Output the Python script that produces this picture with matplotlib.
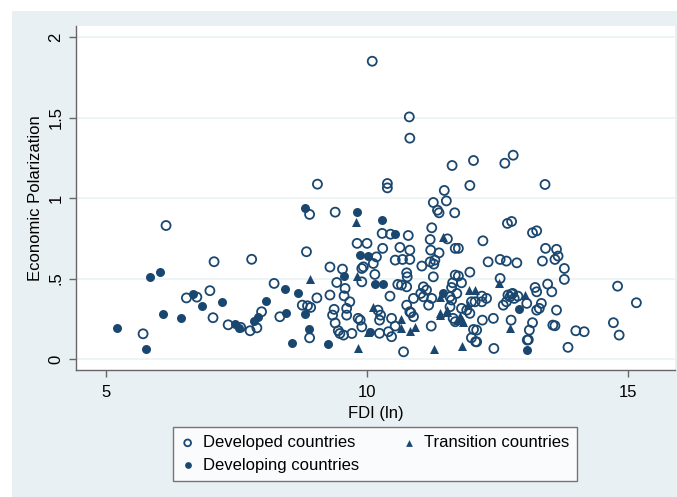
import matplotlib
matplotlib.use("Agg")
import matplotlib.pyplot as plt
from matplotlib.patches import Rectangle

plt.rcParams['font.family'] = ['Liberation Sans', 'DejaVu Sans']

# ---- data ----
developed_x = [5.71, 6.15, 6.54, 6.74, 6.99, 7.07, 7.05, 7.34, 7.58, 7.76, 7.79, 7.89, 7.98,
               8.22, 8.33, 8.76, 8.86, 8.92, 8.84, 8.90, 8.90, 9.04, 9.05, 9.29, 9.37, 9.34,
               9.39, 9.39, 9.42, 9.45, 9.53, 9.48, 9.55, 9.71, 9.58, 9.56, 9.67, 9.61, 9.61,
               9.83, 9.81, 9.90, 9.90, 10.00, 9.93, 10.12, 10.10, 10.15, 10.18, 10.21, 10.26,
               10.24, 10.29, 10.30, 10.39, 10.39, 10.45, 10.44, 10.47, 10.54, 10.54, 10.59,
               10.63, 10.66, 10.68, 10.70, 10.76, 10.77, 10.76, 10.79, 10.81, 10.82, 10.82,
               10.82, 10.84, 10.89, 11.03, 11.05, 11.08, 11.21, 11.21, 11.22, 11.23, 11.24,
               11.27, 11.27, 11.28, 11.30, 11.35, 11.38, 11.38, 11.48, 11.52, 11.54, 11.63,
               11.64, 11.62, 11.68, 11.69, 11.69, 11.75, 11.75, 11.81, 11.97, 11.97, 12.04,
               12.22, 12.20, 12.32, 12.55, 12.55, 12.64, 12.67, 12.69, 12.77, 12.80, 12.87,
               12.70, 12.77, 12.89, 12.76, 13.17, 13.25, 13.22, 13.25, 13.34, 13.36, 13.41,
               13.42, 13.46, 13.54, 13.56, 13.17, 13.07, 12.43, 12.10, 12.00, 12.10, 13.60,
               13.63, 13.66, 13.78, 13.78, 13.63, 13.60, 14.00, 14.16, 14.72, 14.80, 14.83,
               15.16, 13.85, 9.87, 9.90, 10.24, 10.41, 10.47, 10.76, 10.82, 10.89, 11.08,
               11.14, 11.24, 11.18, 11.59, 11.62, 11.72, 11.59, 11.81, 11.91, 11.97, 11.65,
               11.69, 12.00, 12.07, 12.20, 12.29, 12.42, 12.61, 12.67, 12.79, 12.74, 12.82,
               13.06, 13.25, 13.30, 13.09, 13.11, 12.04, 12.08, 12.21, 9.29]
developed_y = [0.157, 0.83, 0.38, 0.385, 0.425, 0.605, 0.257, 0.213, 0.197, 0.176, 0.62, 0.194, 0.294,
               0.47, 0.263, 0.335, 0.331, 0.321, 0.667, 0.899, 0.132, 0.38, 1.087, 0.572, 0.309, 0.273,
               0.224, 0.913, 0.476, 0.176, 0.559, 0.159, 0.149, 0.159, 0.439, 0.393, 0.356, 0.315, 0.273,
               0.253, 0.719, 0.563, 0.48, 0.719, 0.573, 0.594, 1.851, 0.526, 0.635, 0.304, 0.273,
               0.242, 0.781, 0.688, 1.091, 1.064, 0.776, 0.391, 0.253, 0.205, 0.615, 0.464,
               0.694, 0.46, 0.619, 0.045, 0.536, 0.511, 0.449, 0.768, 1.505, 1.373, 0.677,
               0.619, 0.288, 0.263, 0.408, 0.578, 0.387, 0.743, 0.604, 0.677, 0.205, 0.816,
               0.511, 0.973, 0.59, 0.615, 0.925, 0.909, 0.66, 1.048, 0.983, 0.747, 1.203,
               0.474, 0.445, 0.909, 0.688, 0.522, 0.688, 0.516, 0.474, 0.54, 1.079, 1.234,
               0.735, 0.391, 0.604, 0.619, 0.501, 1.217, 0.609, 0.843, 0.855, 1.267, 0.598,
               0.398, 0.404, 0.391, 0.242, 0.785, 0.797, 0.445, 0.418, 0.346, 0.609, 1.085,
               0.688, 0.466, 0.418, 0.211, 0.226, 0.118, 0.066, 0.18, 0.132, 0.107, 0.619,
               0.682, 0.64, 0.563, 0.495, 0.304, 0.207, 0.176, 0.17, 0.226, 0.453, 0.149,
               0.35, 0.073, 0.242, 0.20, 0.16, 0.17, 0.139, 0.335, 0.294, 0.377, 0.449,
               0.429, 0.377, 0.335, 0.387, 0.367, 0.408, 0.325, 0.315, 0.304, 0.284, 0.253,
               0.232, 0.356, 0.356, 0.356, 0.377, 0.253, 0.335, 0.356, 0.408, 0.387, 0.377,
               0.346, 0.304, 0.315, 0.12, 0.18, 0.184, 0.108, 0.242, 0.398]

developing_x = [5.22, 5.77, 5.85, 6.03, 6.09, 6.44, 6.66, 6.84, 7.23, 7.48, 7.55, 7.84, 7.92,
                8.06, 8.43, 8.45, 8.57, 8.68, 8.81, 8.81, 8.88, 9.25, 9.55, 9.81, 9.87, 10.02,
                10.15, 10.31, 10.28, 10.53, 10.06, 11.46, 12.91, 13.07]
developing_y = [0.19, 0.06, 0.51, 0.54, 0.28, 0.255, 0.405, 0.33, 0.355, 0.22, 0.19, 0.236, 0.259,
                0.36, 0.433, 0.288, 0.097, 0.408, 0.28, 0.94, 0.184, 0.091, 0.517, 0.915, 0.646, 0.64,
                0.466, 0.466, 0.865, 0.776, 0.17, 0.408, 0.309, 0.056]

transition_x = [8.90, 9.78, 9.80, 9.83, 10.02, 10.12, 10.66, 10.65, 10.92, 10.82, 11.28, 11.40,
                11.54, 11.46, 11.40, 11.81, 12.07, 11.95, 12.52, 12.74, 13.02, 11.94, 11.78,
                11.84, 11.53, 11.40, 11.72, 11.81]
transition_y = [0.497, 0.853, 0.517, 0.066, 0.171, 0.325, 0.246, 0.19, 0.20, 0.176, 0.06, 0.273,
                0.304, 0.756, 0.387, 0.081, 0.429, 0.43, 0.474, 0.194, 0.40, 0.335, 0.267,
                0.232, 0.294, 0.284, 0.242, 0.242]

labels = ["Developed countries", "Developing countries", "Transition countries"]
x_ticks = [5, 10, 15]
y_ticks = [0, 0.5, 1, 1.5, 2]
y_ticklabels = ["0", ".5", "1", "1.5", "2"]

# ---- styling ----
W, H = 677, 497
navy = "#1A476F"
bg = "#E9F0F3"
fs = 12

fig = plt.figure(figsize=(W / 100, H / 100), dpi=100)
fig.patch.set_facecolor("white")
fig.add_artist(Rectangle((12 / W, 0), 1 - 12 / W, 1 - 11 / H, transform=fig.transFigure,
                         facecolor=bg, edgecolor="none", zorder=0))

ax = fig.add_axes([76 / W, (H - 370) / H, (675 - 76) / W, (370 - 26) / H])
ax.set_facecolor("white")
ax.set_zorder(1)

ms = 42
ax.scatter(developed_x, developed_y, s=ms, facecolors="none", edgecolors=navy,
           linewidths=1.3, label=labels[0], zorder=3)
ax.scatter(developing_x, developing_y, s=ms, color=navy, linewidths=0, label=labels[1], zorder=3)
ax.scatter(transition_x, transition_y, s=ms, marker="^", color=navy, linewidths=0,
           label=labels[2], zorder=3)

ax.set_xlim(4.425, 15.9)
ax.set_ylim(-0.068, 2.07)
ax.set_xticks(x_ticks)
ax.set_yticks(y_ticks)
ax.set_yticklabels(y_ticklabels, rotation=90, va="center")
ax.tick_params(axis="both", direction="out", length=5, width=1, color="#666666",
               labelsize=fs, labelcolor="black")
ax.tick_params(axis="y", pad=4)
ax.tick_params(axis="x", pad=6)
ax.grid(axis="y", color="#EAF2F3", linewidth=1.2, zorder=0)
ax.set_axisbelow(True)
for s in ["top", "right"]:
    ax.spines[s].set_visible(False)
for s in ["left", "bottom"]:
    ax.spines[s].set_color("#666666")
    ax.spines[s].set_linewidth(1.0)

ax.set_xlabel("FDI (ln)", fontsize=fs, labelpad=4)
ax.set_ylabel("Economic Polarization", fontsize=fs, labelpad=4)

leg = fig.legend(loc="center", bbox_to_anchor=(375 / W, (H - 454) / H), ncol=2,
                 frameon=True, fancybox=False, fontsize=fs, handletextpad=0.5,
                 columnspacing=2.6, borderpad=0.5, labelspacing=0.45, markerscale=0.75,
                 handlelength=0.8, borderaxespad=0)
leg.get_frame().set_edgecolor("#555555")
leg.get_frame().set_linewidth(1.0)
leg.get_frame().set_facecolor("white")

fig.savefig("out.png", dpi=100, facecolor=fig.get_facecolor())
